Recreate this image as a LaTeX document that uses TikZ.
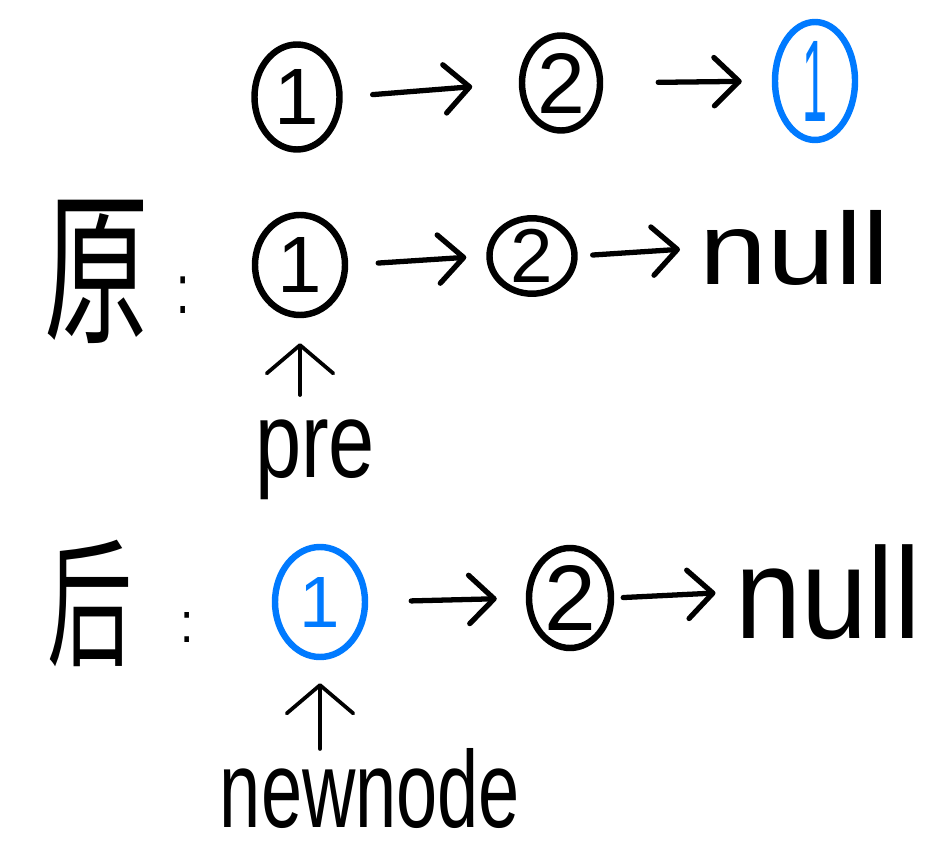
\documentclass[tikz,border=0pt]{standalone}
\usepackage{fontspec}
\usepackage{graphicx}
\setmainfont{Liberation Sans}
\newfontfamily\cjk{Noto Sans CJK SC}
\usetikzlibrary{shapes.geometric,arrows.meta}
\definecolor{inkblue}{RGB}{0,122,255}
\begin{document}
\begin{tikzpicture}[x=0.03cm,y=-0.03cm,
  ring/.style={draw, ellipse, line width=5.5pt, inner sep=0pt},
  bluering/.style={ring, draw=inkblue, text=inkblue},
  link/.style={line width=4.5pt, line cap=round, line join=round,
    -{Straight Barb[length=0.75cm,width=1.45cm,round]}},
  uplink/.style={line width=3.2pt, line cap=round, line join=round,
    -{Straight Barb[length=0.85cm,width=2cm,round]}},
  word/.style={inner sep=0pt, outer sep=0pt}]
\useasboundingbox (0,0) rectangle (948,853);

% row 1
\node[ring, minimum width=2.55cm, minimum height=3.15cm] (a1) at (297,97) {\resizebox*{!}{1.65cm}{1}};
\node[ring, minimum width=2.34cm, minimum height=2.85cm] (a2) at (561,83) {\resizebox*{!}{1.8cm}{2}};
\node[bluering, minimum width=2.4cm, minimum height=3.54cm] (a3) at (815,81) {\resizebox*{0.75cm}{2.4cm}{1}};
\draw[link, shorten <=0.9cm, shorten >=1.4cm] (a1.east) -- (a2.west);
\draw[link, shorten <=1.65cm, shorten >=0.9cm] (a2.east) -- (a3.west);

% row 2
\node[word] (yuan) at (97,272) {\resizebox*{3.15cm}{4.3cm}{\cjk 原}};
\node[word] (colA) at (183,295) {\resizebox*{0.4cm}{1.1cm}{:}};
\node[ring, minimum width=2.7cm, minimum height=3.0cm] (b1) at (300,265) {\resizebox*{!}{1.65cm}{1}};
\node[ring, minimum width=2.55cm, minimum height=2.1cm] (b2) at (532,256) {\resizebox*{!}{1.6cm}{2}};
\node[word] (nullA) at (795,248) {\resizebox*{5.7cm}{2.25cm}{null}};
\draw[link, shorten <=0.9cm, shorten >=0.6cm] (b1.east) -- (b2.west);
\draw[link, shorten <=0.45cm, shorten >=0.6cm] (b2.east) -- (nullA.west);
\node[word] (pre) at (315,460) {\resizebox*{3.6cm}{2.4cm}{pre}};
\draw[uplink, shorten <=0.75cm, shorten >=0.75cm] (b1.south |- pre.north) -- (b1.south);

% row 3
\node[word] (hou) at (90,603) {\resizebox*{2.55cm}{3.8cm}{\cjk 后}};
\node[word] (colB) at (187,627) {\resizebox*{0.4cm}{0.9cm}{:}};
\node[bluering, minimum width=2.7cm, minimum height=3.3cm] (c1) at (320,602) {\resizebox*{!}{1.5cm}{1}};
\node[ring, minimum width=2.46cm, minimum height=3.0cm] (c2) at (570,598) {\resizebox*{!}{1.95cm}{2}};
\node[word] (nullB) at (828,592) {\resizebox*{5.55cm}{2.85cm}{null}};
\draw[link, shorten <=1.29cm, shorten >=0.87cm] (c1.east) -- (c2.west);
\draw[link, shorten <=0.27cm, shorten >=0.6cm] (c2.east) -- (nullB.west);
\node[word] (nn) at (370,789) {\resizebox*{9cm}{2.4cm}{newnode}};
\draw[uplink, shorten <=0.0cm, shorten >=0.69cm] (c1.south |- nn.north) -- (c1.south);
\end{tikzpicture}
\end{document}
